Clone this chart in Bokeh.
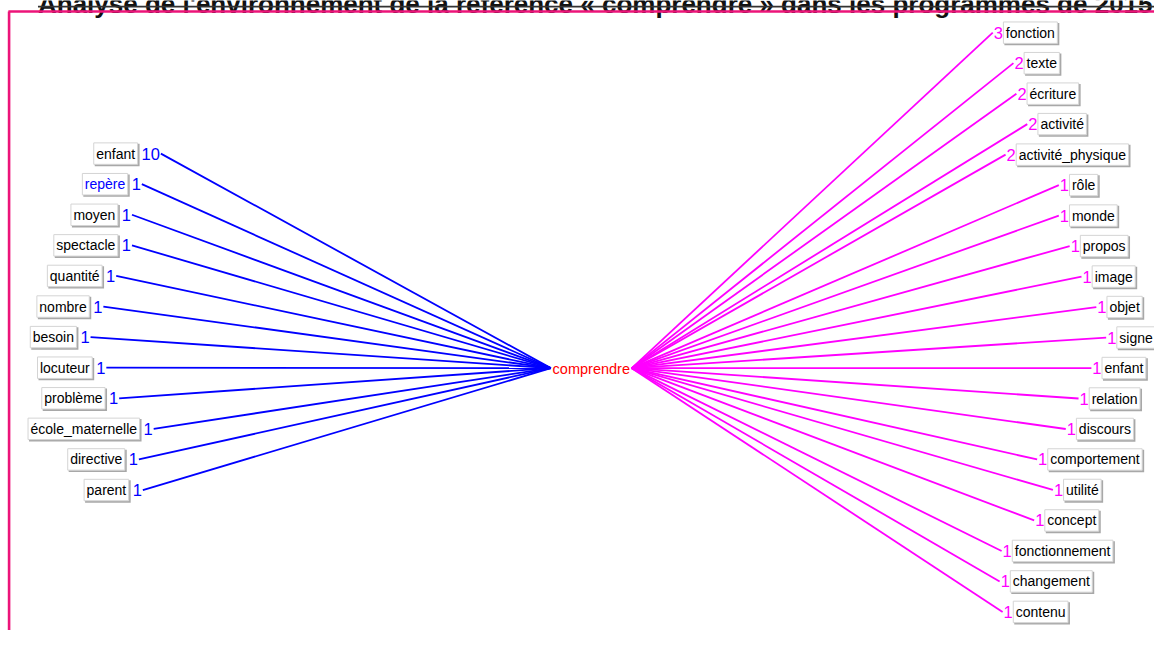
import unicodedata
from bokeh.plotting import figure
from bokeh.models import Range1d, ColumnDataSource
from bokeh.core.properties import value
from bokeh.embed import file_html
from bokeh.resources import INLINE

# ---------------- data ----------------
title_text = "Analyse de l'environnement de la référence « comprendre » dans les programmes de 2015"
center_word = "comprendre"
left_labels = ["enfant", "repère", "moyen", "spectacle", "quantité", "nombre",
               "besoin", "locuteur", "problème", "école_maternelle", "directive", "parent"]
left_counts = [10, 1, 1, 1, 1, 1, 1, 1, 1, 1, 1, 1]
right_labels = ["fonction", "texte", "écriture", "activité", "activité_physique", "rôle",
                "monde", "propos", "image", "objet", "signe", "enfant", "relation",
                "discours", "comportement", "utilité", "concept", "fonctionnement",
                "changement", "contenu"]
right_counts = [3, 2, 2, 2, 2, 1, 1, 1, 1, 1, 1, 1, 1, 1, 1, 1, 1, 1, 1, 1]
highlighted = "repère"

# ---------------- layout (graph drawing node positions) ----------------
left_node_x = [143, 133, 123, 123, 107, 94, 81, 97, 110, 145, 130, 134]
right_node_x = [1007, 1028, 1031, 1042, 1020, 1074, 1074, 1085, 1097, 1112, 1122,
                1107, 1094, 1081, 1052, 1068, 1049, 1016, 1014, 1017]
left_top, left_step = 157.0, 31.36
right_top, right_step = 33.0, 31.26
hub_y = 377.0
hub_left_x, hub_right_x, hub_mid_x = 558.0, 640.0, 599.0

W_PX, H_PX = 1154, 630
REF_W, REF_H = 1170, 646
SX = W_PX / REF_W  # pixels per data unit

FONT = "Liberation Sans"
FS = 14
CFS = 16.5
BOX_H = 22
PAD = 2.5

ARIAL = {'a': 556, 'b': 556, 'c': 500, 'd': 556, 'e': 556, 'f': 278, 'g': 556, 'h': 556,
         'i': 222, 'j': 222, 'k': 500, 'l': 222, 'm': 833, 'n': 556, 'o': 556, 'p': 556,
         'q': 556, 'r': 333, 's': 500, 't': 278, 'u': 556, 'v': 500, 'w': 722, 'x': 500,
         'y': 500, 'z': 500, '_': 556}


def tw(s, size=FS):
    tot = 0
    for ch in s:
        b = unicodedata.normalize("NFD", ch)[0]
        tot += ARIAL.get(b, 556)
    return tot * size / 1000.0 / SX


p = figure(width=W_PX, height=H_PX, output_backend="svg", toolbar_location=None,
           x_range=Range1d(0, REF_W), y_range=Range1d(REF_H, 0),
           min_border=0, min_border_left=0, min_border_right=0,
           min_border_top=0, min_border_bottom=0)
p.axis.visible = False
p.xgrid.visible = False
p.ygrid.visible = False
p.outline_line_color = None
p.background_fill_color = "white"

# cut-off title at the very top (as in the source image)
p.text(x=[38], y=[4.0], text=[title_text], text_color="#111111", text_align="left",
       text_baseline="alphabetic", text_font=value("Liberation Sans"),
       text_font_size="26px", text_font_style="bold")
p.segment(x0=[38], y0=[6.3], x1=[1170], y1=[6.3], line_color="#333333", line_width=1.6)

# pink frame
p.segment(x0=[8], y0=[11.3], x1=[1170], y1=[11.3], line_color="#EC1479", line_width=2.7)
p.segment(x0=[8.7], y0=[11.3], x1=[8.7], y1=[646], line_color="#EC1479", line_width=2.6)

# ---------- left side ----------
ly = [left_top + i * left_step for i in range(len(left_labels))]
lct = [str(c) for c in left_counts]
lcw = [tw(t, CFS) for t in lct]
l_line_x0 = [x + w + 1 for x, w in zip(left_node_x, lcw)]
p.segment(x0=l_line_x0, y0=ly, x1=[hub_left_x] * len(ly), y1=[hub_y] * len(ly),
          line_color="#0000FF", line_width=1.8)

lbox_r = [x - 4 for x in left_node_x]
lbox_l = [r - tw(t) - 2 * PAD for r, t in zip(lbox_r, left_labels)]
p.quad(left=[l + 1 for l in lbox_l], right=[r + 2 for r in lbox_r],
       top=[y - BOX_H / 2 + 1 for y in ly], bottom=[y + BOX_H / 2 + 2 for y in ly],
       fill_color="#A8A8A8", line_color=None)
p.quad(left=lbox_l, right=lbox_r, top=[y - BOX_H / 2 for y in ly],
       bottom=[y + BOX_H / 2 for y in ly], fill_color="white", line_color="#D4D4D4", line_width=1)
lcol = ["#0000FF" if t == highlighted else "black" for t in left_labels]
src_l = ColumnDataSource(dict(x=[r - PAD for r in lbox_r], y=ly, t=left_labels, c=lcol))
p.text(x="x", y="y", text="t", text_color="c", source=src_l, text_align="right",
       text_baseline="middle", text_font=value(FONT), text_font_size=f"{FS}px")
p.text(x=left_node_x, y=ly, text=lct, text_color="#0000FF", text_align="left",
       text_baseline="middle", text_font=value(FONT), text_font_size=f"{CFS}px")

# ---------- right side ----------
ry = [right_top + i * right_step for i in range(len(right_labels))]
rct = [str(c) for c in right_counts]
rcw = [tw(t, CFS) for t in rct]
p.segment(x0=[hub_right_x] * len(ry), y0=[hub_y] * len(ry), x1=[x - 1 for x in right_node_x], y1=ry,
          line_color="#FF00FF", line_width=1.8)
rbox_l = [x + w + 0.5 for x, w in zip(right_node_x, rcw)]
rbox_r = [l + tw(t) + 2 * PAD for l, t in zip(rbox_l, right_labels)]
p.quad(left=[l + 1 for l in rbox_l], right=[r + 2 for r in rbox_r],
       top=[y - BOX_H / 2 + 1 for y in ry], bottom=[y + BOX_H / 2 + 2 for y in ry],
       fill_color="#A8A8A8", line_color=None)
p.quad(left=rbox_l, right=rbox_r, top=[y - BOX_H / 2 for y in ry],
       bottom=[y + BOX_H / 2 for y in ry], fill_color="white", line_color="#D4D4D4", line_width=1)
p.text(x=[l + PAD for l in rbox_l], y=ry, text=right_labels, text_color="black", text_align="left",
       text_baseline="middle", text_font=value(FONT), text_font_size=f"{FS}px")
p.text(x=right_node_x, y=ry, text=rct, text_color="#FF00FF", text_align="left",
       text_baseline="middle", text_font=value(FONT), text_font_size=f"{CFS}px")

# ---------- centre ----------
p.text(x=[hub_mid_x], y=[hub_y + 1], text=[center_word], text_color="#FF0000", text_align="center",
       text_baseline="middle", text_font=value(FONT), text_font_size="14.5px")

open("out.html", "w").write(file_html(p, INLINE))
